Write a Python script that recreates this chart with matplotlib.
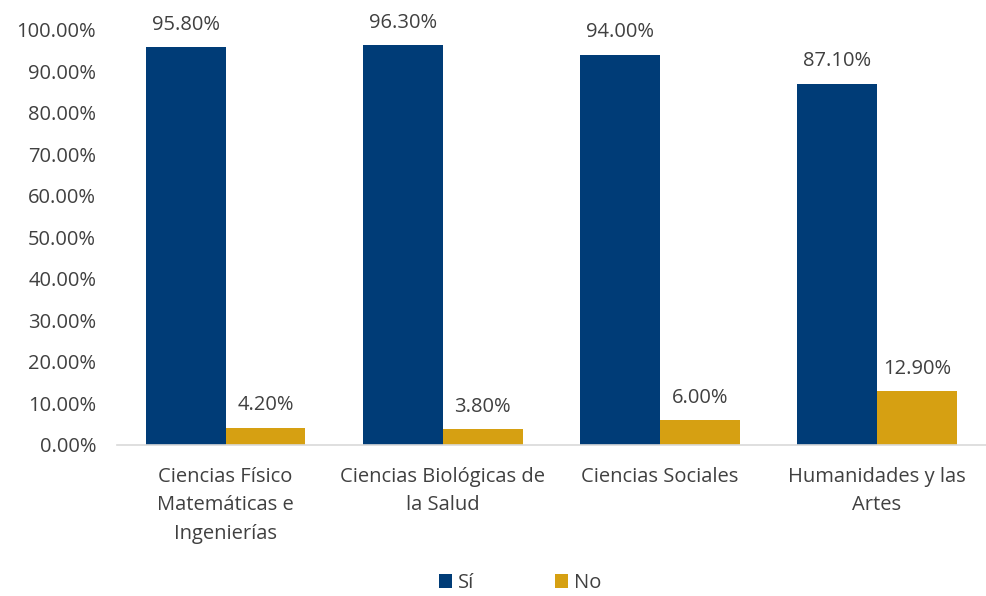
import matplotlib
matplotlib.use("Agg")
import matplotlib.pyplot as plt
import numpy as np
from matplotlib.ticker import FuncFormatter

BLUE = "#003C77"
GOLD = "#D6A012"
TEXT = "#404040"

categories = ["Ciencias Físico\nMatemáticas e\nIngenierías",
              "Ciencias Biológicas de\nla Salud",
              "Ciencias Sociales",
              "Humanidades y las\nArtes"]
si = [95.8, 96.3, 94.0, 87.1]
no = [4.2, 3.8, 6.0, 12.9]

plt.rcParams["font.family"] = ["Open Sans", "DejaVu Sans"]
FS = 14.5

fig = plt.figure(figsize=(9.87, 5.96), dpi=100)
ax = fig.add_axes([0.1185, 0.2534, 0.88, 0.6963])

x = np.arange(len(categories))
w = 0.368
b1 = ax.bar(x - w / 2, si, w, color=BLUE, label="Sí")
b2 = ax.bar(x + w / 2, no, w, color=GOLD, label="No")

for bars, vals in ((b1, si), (b2, no)):
    for rect, v in zip(bars, vals):
        ax.text(rect.get_x() + rect.get_width() / 2, v + 3.0, f"{v:.2f}%",
                ha="center", va="bottom", fontsize=FS, color=TEXT, clip_on=False)

ax.set_ylim(0, 100)
ax.set_xlim(-0.5, len(categories) - 0.5)
ax.set_yticks(np.arange(0, 101, 10))
ax.yaxis.set_major_formatter(FuncFormatter(lambda v, p: f"{v:.2f}%"))
ax.set_xticks(x)
ax.set_xticklabels(categories, fontsize=FS, color=TEXT, linespacing=1.55)
ax.tick_params(axis="y", length=0, labelsize=FS, labelcolor=TEXT, pad=15)
ax.tick_params(axis="x", length=0, pad=16)
for s in ("top", "right", "left"):
    ax.spines[s].set_visible(False)
ax.spines["bottom"].set_color("#D9D9D9")
ax.spines["bottom"].set_linewidth(1.2)

fig.legend(handles=[b1, b2], labels=["Sí", "No"], loc="center",
           bbox_to_anchor=(0.527, 0.022), ncol=2, frameon=False,
           fontsize=FS, labelcolor=TEXT, handlelength=0.65, handleheight=0.65,
           columnspacing=4.0, handletextpad=0.3)

fig.savefig("out.png", dpi=100, facecolor="white")
